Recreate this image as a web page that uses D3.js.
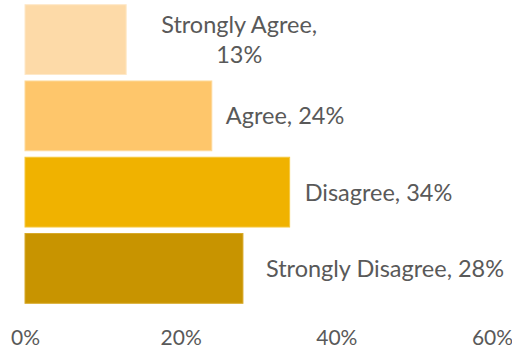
<!DOCTYPE html>
<html>
<head>
<meta charset="utf-8">
<script src="https://cdn.jsdelivr.net/npm/d3@7"></script>
<style>
  html, body { margin: 0; padding: 0; background: #fff; }
  svg { display: block; }
</style>
</head>
<body>
<svg id="chart" width="512" height="349"></svg>
<script>
// Survey responses
const categories = ["Strongly Agree", "Agree", "Disagree", "Strongly Disagree"];
const shares = [0.13, 0.24, 0.34, 0.28];
const tickValues = [0, 0.2, 0.4, 0.6];
const tickLabels = ["0%", "20%", "40%", "60%"];
const fills = ["#FDDAA8", "#FEC66B", "#F0B200", "#C89400"];
const strokes = ["#FEE8C8", "#FED99A", "#F5C840", "#D8AA2A"];

const svg = d3.select("#chart");
const font = "Lato, 'Open Sans', sans-serif";
const textColor = "#595959";

const x = d3.scaleLinear().domain([0, 0.6]).range([25, 492]);
const y = d3.scaleBand().domain(categories).range([1.5, 306.5]).paddingInner(0.085).paddingOuter(0.042);

// Bars
svg.append("g").selectAll("rect")
  .data(categories)
  .join("rect")
  .attr("x", x(0))
  .attr("y", d => y(d))
  .attr("width", (d, i) => x(shares[i]) - x(0))
  .attr("height", y.bandwidth())
  .attr("fill", (d, i) => fills[i])
  .attr("stroke", (d, i) => strokes[i])
  .attr("stroke-width", 1);

// Value labels beside each bar (category, percentage)
const labelGap = [36, 14, 15, 23];
const fmt = d3.format(".0%");
const labels = svg.append("g")
  .attr("font-family", font)
  .attr("font-size", 23.5)
  .attr("fill", textColor);

categories.forEach((c, i) => {
  const cy = y(c) + y.bandwidth() / 2;
  const t = labels.append("text").attr("x", x(shares[i]) + labelGap[i]);
  if (i === 0) {
    // long label wraps onto two centred lines
    const lines = [c + ",", fmt(shares[i])];
    t.attr("text-anchor", "middle");
    const w = 154;
    lines.forEach((ln, k) => {
      t.append("tspan")
        .attr("x", x(shares[i]) + labelGap[i] + w / 2)
        .attr("y", cy - 7 + k * 30.4)
        .text(ln);
    });
  } else {
    t.attr("y", cy + 8.5).text(c + ", " + fmt(shares[i]));
  }
});

// Horizontal value axis: tick labels only
const axis = d3.axisBottom(x)
  .tickValues(tickValues)
  .tickFormat((d, i) => tickLabels[i])
  .tickSize(0)
  .tickPadding(0);

const gx = svg.append("g")
  .attr("transform", "translate(0,330)")
  .call(axis);
gx.select(".domain").remove();
gx.selectAll("text")
  .attr("font-family", font)
  .attr("font-size", 21)
  .attr("fill", textColor)
  .attr("dy", "0.71em");
</script>
</body>
</html>
